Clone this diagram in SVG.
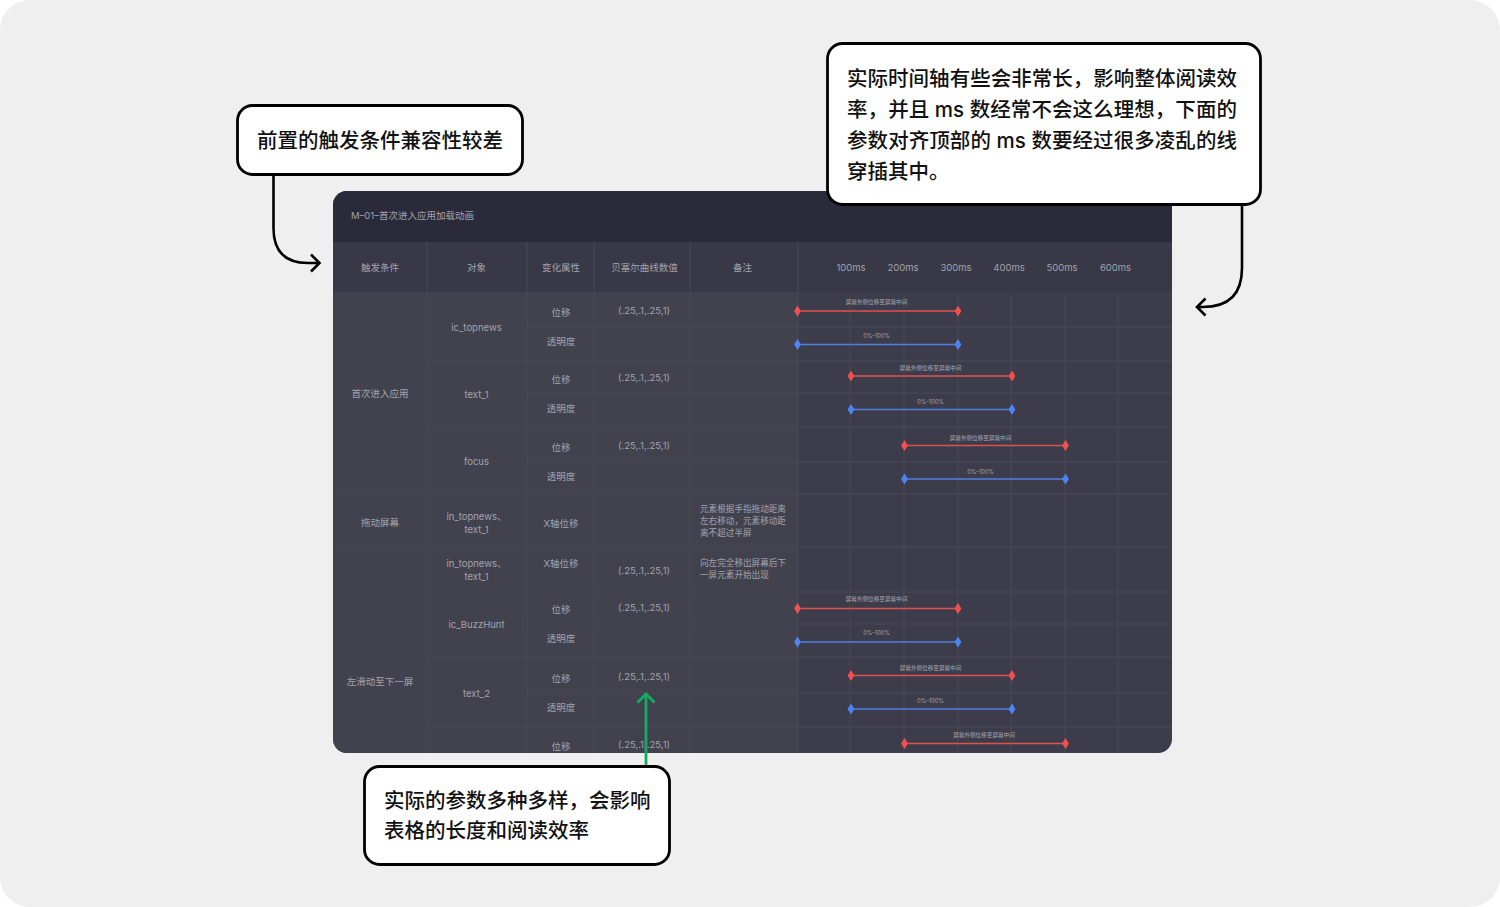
<svg xmlns="http://www.w3.org/2000/svg" width="1500" height="907" viewBox="0 0 1500 907">
<style>
text{font-family:"Inter","Noto Sans CJK SC",sans-serif}
.t{font-size:9.5px;fill:#a3a3ad;text-anchor:middle}
.tl{text-anchor:start}
.n{font-size:8.6px}
.s{font-size:5.6px;fill:#a8a8b2;text-anchor:middle}
.g{stroke:#484856;stroke-width:1;fill:none}
.r{stroke:#e0504f;stroke-width:1.4}
.b{stroke:#4f7fe0;stroke-width:1.4}
.rd{fill:#f24f4f}
.bd{fill:#4d84f5}
.box{fill:#fff;stroke:#000;stroke-width:2.8}
.c{font-size:20.5px;fill:#111;font-weight:500}
.k{fill:none;stroke:#000;stroke-width:2.6}
.gn{fill:none;stroke:#12ad62;stroke-width:2.8}
</style>
<defs>
<clipPath id="panel"><rect x="333" y="191" width="839" height="562" rx="14"/></clipPath>
<path id="d" d="M0-5.500 3.400 0 0 5.500-3.400 0Z"/>
</defs>
<rect width="1500" height="907" fill="#fff"/>
<rect width="1500" height="907" rx="30" fill="#efefef"/>
<g id="table" clip-path="url(#panel)">
<rect x="333" y="191" width="839" height="562" fill="#3c3c4a"/>
<rect x="333" y="191" width="839" height="51" fill="#2a2a3b"/>
<rect x="333" y="242" width="839" height="50" fill="#383847"/>
<rect x="333" y="292" width="465" height="461" fill="#42424f"/>
<g class="g">
<path d="M427 242V753M527 242V753M594 242V753M690 242V753M798 242V753"/>
<path d="M850 295V753M904 295V753M958 295V753M1011 295V753M1065 295V753M1118 295V753"/>
<path d="M527 327H1172M427 361H1172M527 393H1172M427 427H1172M527 462H1172M333 494H1172M333 547H1172M427 592H1172M527 624H1172M427 657H1172M527 693H1172M427 727H1172"/>
</g>
</g>
<g id="table-text">
<text class="t tl" x="351" y="219">M–01–首次进入应用加载动画</text>
<text class="t" x="380" y="270.500">触发条件</text>
<text class="t" x="476.500" y="270.500">对象</text>
<text class="t" x="561" y="270.500">变化属性</text>
<text class="t" x="644.500" y="270.500">贝塞尔曲线数值</text>
<text class="t" x="742.500" y="270.500">备注</text>
<text class="t" x="851" y="270.500">100ms</text>
<text class="t" x="903" y="270.500">200ms</text>
<text class="t" x="956" y="270.500">300ms</text>
<text class="t" x="1009" y="270.500">400ms</text>
<text class="t" x="1062" y="270.500">500ms</text>
<text class="t" x="1115.500" y="270.500">600ms</text>
<text class="t" x="380" y="397">首次进入应用</text>
<text class="t" x="380" y="526">拖动屏幕</text>
<text class="t" x="380" y="684.500">左滑动至下一屏</text>
<text class="t" x="476.500" y="330.500">ic_topnews</text>
<text class="t" x="476.500" y="397.500">text_1</text>
<text class="t" x="476.500" y="465">focus</text>
<text class="t" x="476.500" y="520">in_topnews、</text>
<text class="t" x="476.500" y="533">text_1</text>
<text class="t" x="476.500" y="567">in_topnews、</text>
<text class="t" x="476.500" y="580">text_1</text>
<text class="t" x="476.500" y="627.500">ic_BuzzHunt</text>
<text class="t" x="476.500" y="697">text_2</text>
<text class="t" x="561" y="316">位移</text>
<text class="t" x="561" y="345">透明度</text>
<text class="t" x="561" y="383">位移</text>
<text class="t" x="561" y="412">透明度</text>
<text class="t" x="561" y="451">位移</text>
<text class="t" x="561" y="480">透明度</text>
<text class="t" x="561" y="527">X轴位移</text>
<text class="t" x="561" y="567">X轴位移</text>
<text class="t" x="561" y="613">位移</text>
<text class="t" x="561" y="642">透明度</text>
<text class="t" x="561" y="682">位移</text>
<text class="t" x="561" y="711">透明度</text>
<text class="t" x="561" y="750">位移</text>
<text class="t" x="644" y="314">(.25,.1,.25,1)</text>
<text class="t" x="644" y="381">(.25,.1,.25,1)</text>
<text class="t" x="644" y="449">(.25,.1,.25,1)</text>
<text class="t" x="644" y="574">(.25,.1,.25,1)</text>
<text class="t" x="644" y="611">(.25,.1,.25,1)</text>
<text class="t" x="644" y="680">(.25,.1,.25,1)</text>
<text class="t" x="644" y="748">(.25,.1,.25,1)</text>
<text class="t tl n" x="700" y="512">元素根据手指拖动距离</text>
<text class="t tl n" x="700" y="524">左右移动，元素移动距</text>
<text class="t tl n" x="700" y="536">离不超过半屏</text>
<text class="t tl n" x="700" y="566">向左完全移出屏幕后下</text>
<text class="t tl n" x="700" y="578">一屏元素开始出现</text>
</g>
<g id="timeline">
<line class="r" x1="797" x2="958" y1="311" y2="311"/><use href="#d" class="rd" x="797.500" y="311"/><use href="#d" class="rd" x="958" y="311"/>
<text class="s" x="876.500" y="303.500">屏幕外侧位移至屏幕中间</text>
<line class="b" x1="797" x2="958" y1="344.500" y2="344.500"/><use href="#d" class="bd" x="797.500" y="344.500"/><use href="#d" class="bd" x="958" y="344.500"/>
<text class="s" x="876.500" y="337.500">0%–100%</text>
<line class="r" x1="851" x2="1012" y1="376" y2="376"/><use href="#d" class="rd" x="851" y="376"/><use href="#d" class="rd" x="1012" y="376"/>
<text class="s" x="930.500" y="369.500">屏幕外侧位移至屏幕中间</text>
<line class="b" x1="851" x2="1012" y1="409.500" y2="409.500"/><use href="#d" class="bd" x="851" y="409.500"/><use href="#d" class="bd" x="1012" y="409.500"/>
<text class="s" x="930.500" y="403.500">0%–100%</text>
<line class="r" x1="904" x2="1065" y1="445.500" y2="445.500"/><use href="#d" class="rd" x="904.500" y="445.500"/><use href="#d" class="rd" x="1065.500" y="445.500"/>
<text class="s" x="980.500" y="439.500">屏幕外侧位移至屏幕中间</text>
<line class="b" x1="904" x2="1065" y1="479" y2="479"/><use href="#d" class="bd" x="904.500" y="479"/><use href="#d" class="bd" x="1065.500" y="479"/>
<text class="s" x="980.500" y="473.500">0%–100%</text>
<line class="r" x1="797" x2="958" y1="608.500" y2="608.500"/><use href="#d" class="rd" x="797.500" y="608.500"/><use href="#d" class="rd" x="958" y="608.500"/>
<text class="s" x="876.500" y="601">屏幕外侧位移至屏幕中间</text>
<line class="b" x1="797" x2="958" y1="642" y2="642"/><use href="#d" class="bd" x="797.500" y="642"/><use href="#d" class="bd" x="958" y="642"/>
<text class="s" x="876.500" y="635">0%–100%</text>
<line class="r" x1="851" x2="1012" y1="675.500" y2="675.500"/><use href="#d" class="rd" x="851" y="675.500"/><use href="#d" class="rd" x="1012" y="675.500"/>
<text class="s" x="930.500" y="669.500">屏幕外侧位移至屏幕中间</text>
<line class="b" x1="851" x2="1012" y1="709" y2="709"/><use href="#d" class="bd" x="851" y="709"/><use href="#d" class="bd" x="1012" y="709"/>
<text class="s" x="930.500" y="703">0%–100%</text>
<line class="r" x1="904" x2="1065" y1="743.500" y2="743.500"/><use href="#d" class="rd" x="904.500" y="743.500"/><use href="#d" class="rd" x="1065.500" y="743.500"/>
<text class="s" x="984" y="737">屏幕外侧位移至屏幕中间</text>
</g>
<g id="connectors">
<path class="k" d="M273.500 175V228Q273.500 263 308 263H319M311 254.500 319.500 263 311 271.500"/>
<path class="k" d="M1242 205V268Q1242 307 1203 307H1197M1205.500 298.500 1197 307 1205.500 315.500"/>
<path class="gn" d="M646 766V694M637.500 702.500 646 694 654.500 702.500"/>
</g>
<g id="note-trigger">
<rect class="box" x="237.500" y="105.500" width="285" height="69" rx="15"/>
<text class="c" x="257" y="148">前置的触发条件兼容性较差</text>
</g>
<g id="note-timeline">
<rect class="box" x="827.500" y="43.500" width="433" height="161" rx="15"/>
<text class="c" x="847" y="86" textLength="390">实际时间轴有些会非常长，影响整体阅读效</text>
<text class="c" x="847" y="117" textLength="390">率，并且 ms 数经常不会这么理想，下面的</text>
<text class="c" x="847" y="148" textLength="390">参数对齐顶部的 ms 数要经过很多凌乱的线</text>
<text class="c" x="847" y="179">穿插其中。</text>
</g>
<g id="note-params">
<rect class="box" x="364.500" y="766.500" width="305" height="98" rx="15"/>
<text class="c" x="384" y="808">实际的参数多种多样，会影响</text>
<text class="c" x="384" y="838">表格的长度和阅读效率</text>
</g>
</svg>
